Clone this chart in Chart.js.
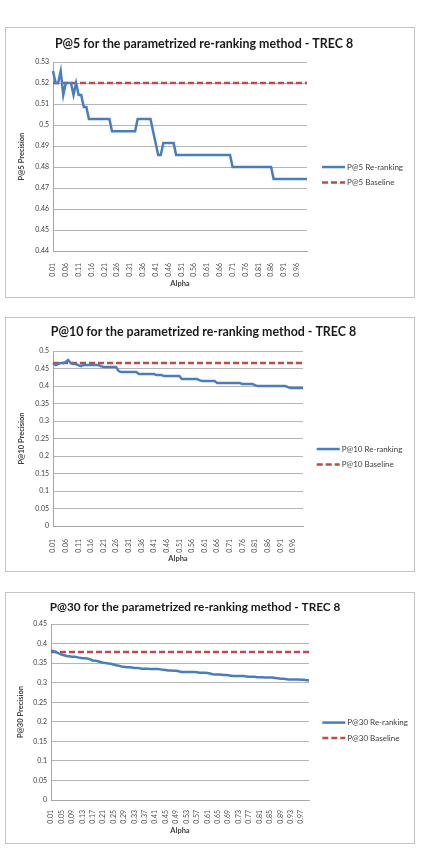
<!DOCTYPE html>
<html>
<head>
<meta charset="utf-8">
<script src="https://cdn.jsdelivr.net/npm/chart.js@4.4.1/dist/chart.umd.min.js"></script>
<style>
  html, body { margin: 0; padding: 0; background: #fff; }
  .box { position: absolute; left: 5px; width: 408px; border: 1px solid #c3c3c3; background: #fff; }
  .box canvas { display: block; }
</style>
</head>
<body>
<div class="box" style="top:27px;height:269px"><canvas id="chartP5" width="408" height="269"></canvas></div>
<div class="box" style="top:317px;height:253px"><canvas id="chartP10" width="408" height="253"></canvas></div>
<div class="box" style="top:592px;height:250px"><canvas id="chartP30" width="408" height="250"></canvas></div>
<script>
// alpha values on the x axis
const alpha = [
  '0.01','0.02','0.03','0.04','0.05','0.06','0.07','0.08','0.09','0.1',
  '0.11','0.12','0.13','0.14','0.15','0.16','0.17','0.18','0.19','0.2',
  '0.21','0.22','0.23','0.24','0.25','0.26','0.27','0.28','0.29','0.3',
  '0.31','0.32','0.33','0.34','0.35','0.36','0.37','0.38','0.39','0.4',
  '0.41','0.42','0.43','0.44','0.45','0.46','0.47','0.48','0.49','0.5',
  '0.51','0.52','0.53','0.54','0.55','0.56','0.57','0.58','0.59','0.6',
  '0.61','0.62','0.63','0.64','0.65','0.66','0.67','0.68','0.69','0.7',
  '0.71','0.72','0.73','0.74','0.75','0.76','0.77','0.78','0.79','0.8',
  '0.81','0.82','0.83','0.84','0.85','0.86','0.87','0.88','0.89','0.9',
  '0.91','0.92','0.93','0.94','0.95','0.96','0.97','0.98','0.99','1'
];

// P@5
const p5Rerank = [
  0.5257, 0.52, 0.52, 0.5257, 0.5143, 0.52, 0.52, 0.52, 0.5143, 0.52,
  0.5143, 0.5143, 0.5086, 0.5086, 0.5029, 0.5029, 0.5029, 0.5029, 0.5029, 0.5029,
  0.5029, 0.5029, 0.5029, 0.4971, 0.4971, 0.4971, 0.4971, 0.4971, 0.4971, 0.4971,
  0.4971, 0.4971, 0.4971, 0.5029, 0.5029, 0.5029, 0.5029, 0.5029, 0.5029, 0.4971,
  0.4914, 0.4857, 0.4857, 0.4914, 0.4914, 0.4914, 0.4914, 0.4914, 0.4857, 0.4857,
  0.4857, 0.4857, 0.4857, 0.4857, 0.4857, 0.4857, 0.4857, 0.4857, 0.4857, 0.4857,
  0.4857, 0.4857, 0.4857, 0.4857, 0.4857, 0.4857, 0.4857, 0.4857, 0.4857, 0.4857,
  0.48, 0.48, 0.48, 0.48, 0.48, 0.48, 0.48, 0.48, 0.48, 0.48,
  0.48, 0.48, 0.48, 0.48, 0.48, 0.48, 0.4743, 0.4743, 0.4743, 0.4743,
  0.4743, 0.4743, 0.4743, 0.4743, 0.4743, 0.4743, 0.4743, 0.4743, 0.4743, 0.4743
];
const p5Baseline = [0.52, 0.52];

// P@10
const p10Rerank = [
  0.4657, 0.46, 0.4629, 0.4657, 0.4657, 0.4686, 0.4743, 0.4657, 0.4629, 0.4629,
  0.46, 0.4571, 0.46, 0.46, 0.46, 0.46, 0.46, 0.46, 0.46, 0.4571,
  0.4543, 0.4543, 0.4543, 0.4543, 0.4543, 0.4543, 0.4429, 0.44, 0.44, 0.44,
  0.44, 0.44, 0.44, 0.44, 0.4343, 0.4343, 0.4343, 0.4343, 0.4343, 0.4343,
  0.4343, 0.4314, 0.4314, 0.4314, 0.4286, 0.4286, 0.4286, 0.4286, 0.4286, 0.4286,
  0.4286, 0.42, 0.42, 0.42, 0.42, 0.42, 0.42, 0.42, 0.4171, 0.4143,
  0.4143, 0.4143, 0.4143, 0.4143, 0.4143, 0.4086, 0.4086, 0.4086, 0.4086, 0.4086,
  0.4086, 0.4086, 0.4086, 0.4086, 0.4086, 0.4057, 0.4057, 0.4057, 0.4057, 0.4057,
  0.4029, 0.40, 0.40, 0.40, 0.40, 0.40, 0.40, 0.40, 0.40, 0.40,
  0.40, 0.40, 0.40, 0.3971, 0.3943, 0.3943, 0.3943, 0.3943, 0.3943, 0.3943
];
const p10Baseline = [0.4657, 0.4657];

// P@30
const p30Rerank = [
  0.3829, 0.3810, 0.3781, 0.3752, 0.3724, 0.3705, 0.3686, 0.3676, 0.3667, 0.3667,
  0.3657, 0.3638, 0.3629, 0.3629, 0.3619, 0.3600, 0.3571, 0.3562, 0.3552, 0.3533,
  0.3514, 0.3505, 0.3495, 0.3486, 0.3467, 0.3448, 0.3438, 0.3419, 0.3410, 0.3400,
  0.3400, 0.3390, 0.3381, 0.3381, 0.3371, 0.3362, 0.3362, 0.3362, 0.3352, 0.3352,
  0.3352, 0.3352, 0.3343, 0.3333, 0.3324, 0.3314, 0.3314, 0.3305, 0.3305, 0.3295,
  0.3276, 0.3276, 0.3276, 0.3276, 0.3276, 0.3276, 0.3267, 0.3257, 0.3257, 0.3257,
  0.3248, 0.3238, 0.3219, 0.3210, 0.3210, 0.3210, 0.3200, 0.3200, 0.3190, 0.3181,
  0.3171, 0.3171, 0.3171, 0.3171, 0.3171, 0.3162, 0.3152, 0.3152, 0.3152, 0.3143,
  0.3143, 0.3143, 0.3133, 0.3133, 0.3133, 0.3133, 0.3124, 0.3114, 0.3105, 0.3105,
  0.3095, 0.3086, 0.3086, 0.3086, 0.3086, 0.3086, 0.3076, 0.3076, 0.3067, 0.3067
];
const p30Baseline = [0.379, 0.379];

const FONT = 'Lato, "Open Sans", sans-serif';
Chart.defaults.font.family = FONT;

// Excel-like legend to the right of the plot
const sideLegend = {
  id: 'sideLegend',
  afterDraw(chart, args, opts) {
    const { ctx, chartArea } = chart;
    const x = chartArea.right + opts.gap;
    const mid = (chartArea.top + chartArea.bottom) / 2;
    ctx.save();
    chart.data.datasets.forEach((ds, i) => {
      const y = mid + 10.5 + i * 15.5;
      ctx.beginPath();
      ctx.strokeStyle = ds.borderColor;
      ctx.lineWidth = ds.borderWidth;
      ctx.setLineDash(ds.borderDash || []);
      ctx.moveTo(x, y);
      ctx.lineTo(x + 23, y);
      ctx.stroke();
      ctx.setLineDash([]);
      ctx.fillStyle = '#404040';
      ctx.font = '8px ' + FONT;
      ctx.textBaseline = 'middle';
      ctx.fillText(ds.label, x + 25, y);
    });
    ctx.restore();
  }
};

function drawChart(id, o) {
  new Chart(document.getElementById(id), {
    type: 'line',
    data: {
      labels: alpha,
      datasets: [
        {
          label: o.names[0],
          data: o.values,
          borderColor: '#4a7ebb',
          borderWidth: 2.5,
          pointRadius: 0,
          tension: 0
        },
        {
          label: o.names[1],
          data: [{ x: alpha[0], y: o.base[0] }, { x: alpha[alpha.length - 1], y: o.base[1] }],
          borderColor: '#be4b48',
          borderWidth: 2.5,
          borderDash: [6, 3],
          pointRadius: 0
        }
      ]
    },
    options: {
      responsive: false,
      animation: false,
      layout: { padding: { left: 0, right: o.padRight, top: 0, bottom: 0 } },
      plugins: {
        legend: { display: false },
        tooltip: { enabled: false },
        title: {
          display: true,
          text: o.title,
          color: '#1a1a1a',
          font: { size: o.titleSize, weight: 'bold' },
          padding: { top: o.titleTop, bottom: o.titleBottom }
        },
        sideLegend: { gap: o.legendGap }
      },
      scales: {
        x: {
          grid: { display: false },
          border: { color: '#a6a6a6' },
          ticks: {
            autoSkip: false,
            minRotation: 90,
            maxRotation: 90,
            padding: o.xTickPad,
            color: '#505050',
            font: { size: 7 },
            callback: (v, i) => (i % o.every === 0 ? alpha[i] : '')
          },
          title: {
            display: true,
            text: 'Alpha',
            color: '#404040',
            font: { size: 7.5, weight: 'bold' },
            padding: { top: 0, bottom: o.alphaBottom }
          },
          afterFit: s => { s.height = o.xHeight; }
        },
        y: {
          min: o.yMin,
          max: o.yMax,
          grid: { color: '#b5b5b5', drawTicks: false },
          border: { color: '#a6a6a6' },
          ticks: {
            stepSize: o.yStep,
            padding: 4,
            color: '#404040',
            font: { size: 7 },
            callback: v => String(Math.round(v * 100) / 100)
          },
          title: {
            display: true,
            text: o.yTitle,
            color: '#404040',
            font: { size: 7.5, weight: 'bold' },
            padding: { top: o.yTitleTop, bottom: 0 }
          },
          afterFit: s => { s.width = o.yWidth; }
        },
        legendSpace: {
          position: 'right',
          grid: { display: false },
          border: { display: false },
          ticks: { display: false },
          afterFit: s => { s.width = o.legendWidth; }
        }
      }
    },
    plugins: [sideLegend]
  });
}

drawChart('chartP5', {
  title: 'P@5 for the parametrized re-ranking method - TREC 8',
  names: ['P@5 Re-ranking', 'P@5 Baseline'],
  values: p5Rerank, base: p5Baseline,
  yTitle: 'P@5 Precision', yMin: 0.44, yMax: 0.53, yStep: 0.01,
  every: 5, titleSize: 12.4, titleTop: 8.6, titleBottom: 10.6,
  padRight: 12, legendWidth: 95, yWidth: 47, yTitleTop: 11.2,
  xHeight: 46, xTickPad: 4, alphaBottom: 8.5, legendGap: 15
});

drawChart('chartP10', {
  title: 'P@10 for the parametrized re-ranking method - TREC 8',
  names: ['P@10 Re-ranking', 'P@10 Baseline'],
  values: p10Rerank, base: p10Baseline,
  yTitle: 'P@10 Precision', yMin: 0, yMax: 0.5, yStep: 0.05,
  every: 5, titleSize: 12.4, titleTop: 6.6, titleBottom: 11.6,
  padRight: 13, legendWidth: 98, yWidth: 47, yTitleTop: 11.2,
  xHeight: 45, xTickPad: 5, alphaBottom: 8, legendGap: 13.7
});

drawChart('chartP30', {
  title: 'P@30 for the parametrized re-ranking method - TREC 8',
  names: ['P@30 Re-ranking', 'P@30 Baseline'],
  values: p30Rerank, base: p30Baseline,
  yTitle: 'P@30 Precision', yMin: 0, yMax: 0.45, yStep: 0.05,
  every: 4, titleSize: 11.8, titleTop: 7, titleBottom: 10,
  padRight: 30, legendWidth: 75, yWidth: 45, yTitleTop: 10.2,
  xHeight: 43, xTickPad: 2, alphaBottom: 7.5, legendGap: 13.3
});
</script>
</body>
</html>
